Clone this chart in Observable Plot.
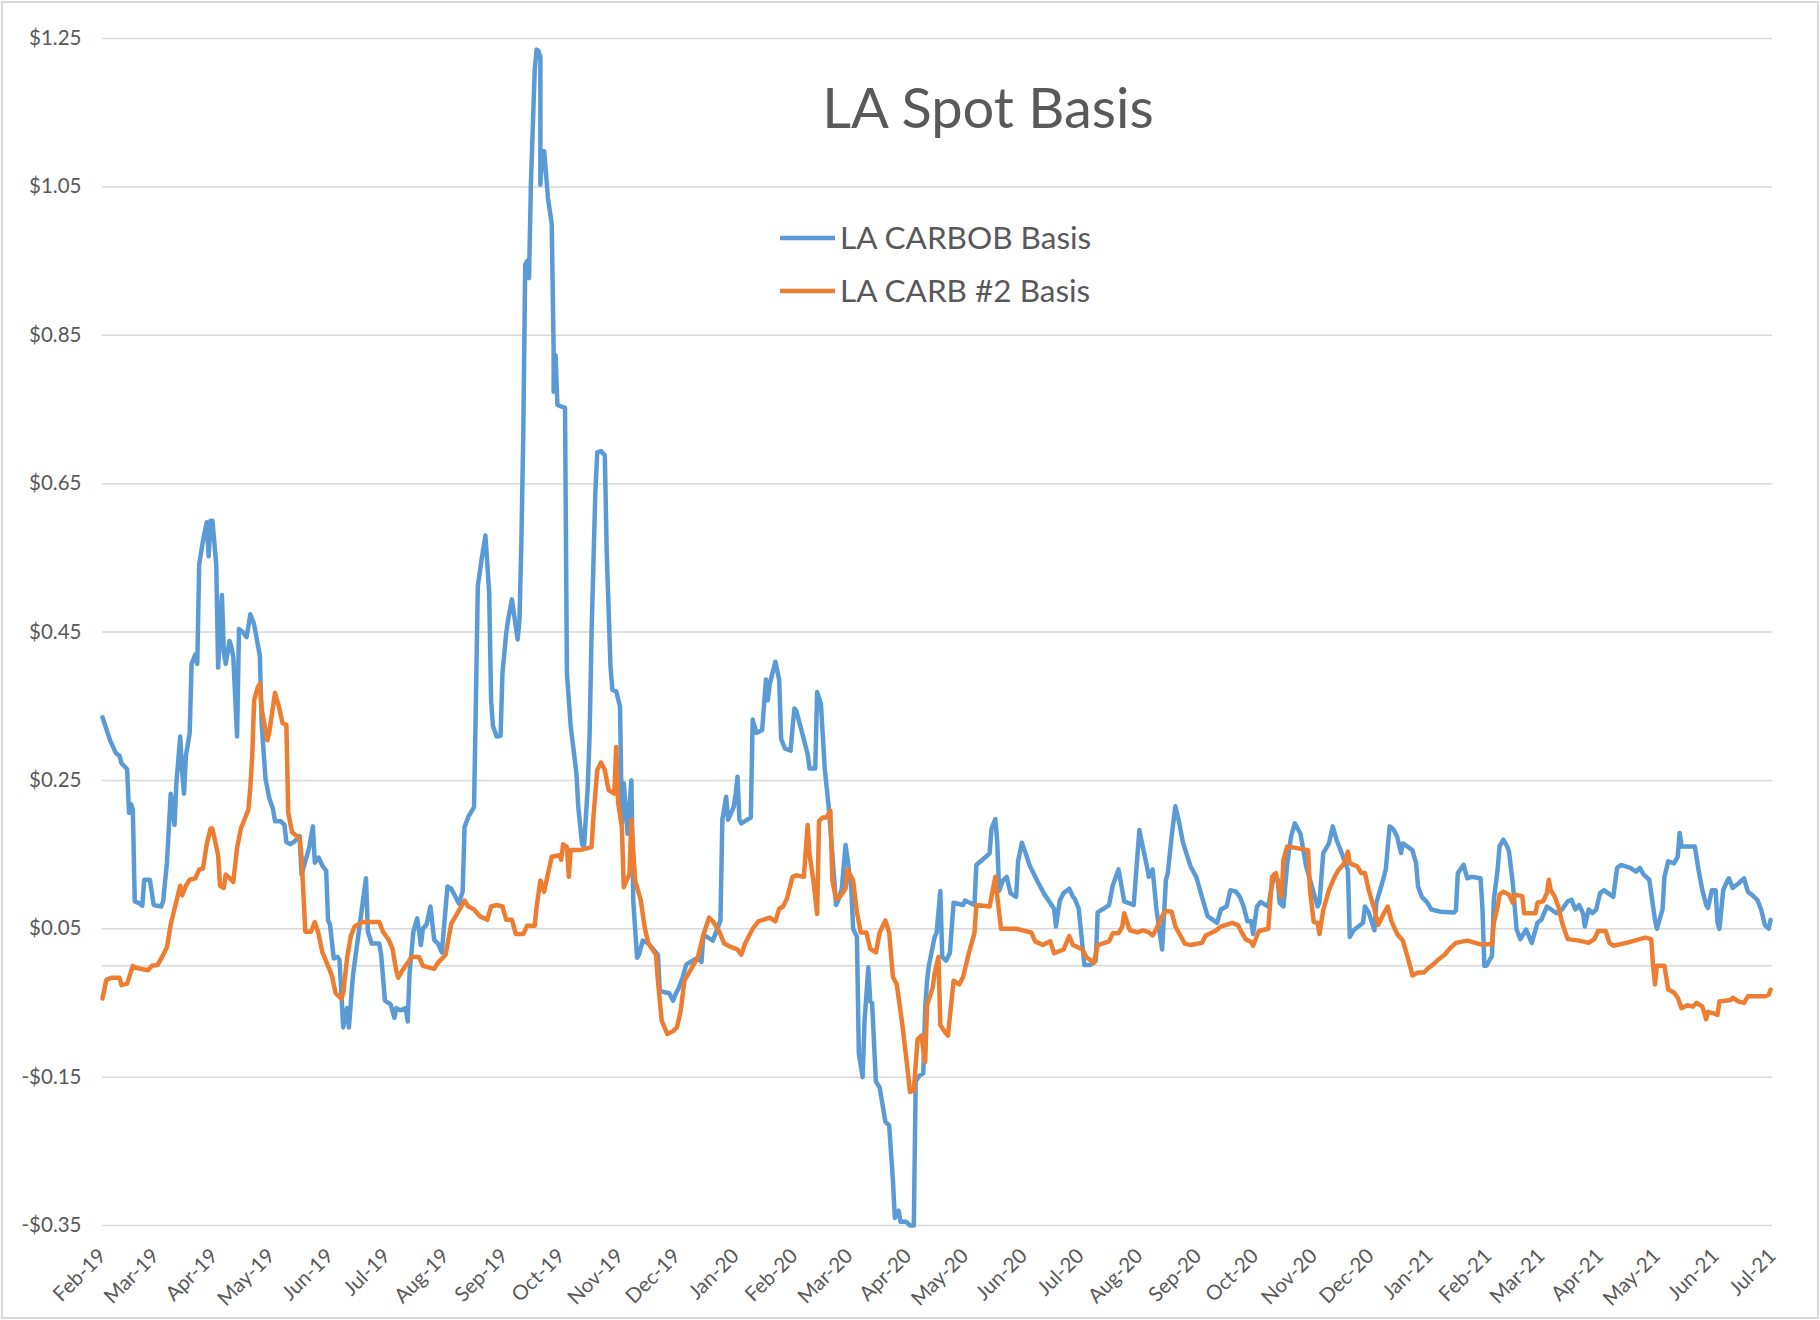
<!DOCTYPE html>
<html><head><meta charset="utf-8">
<script src="https://cdn.jsdelivr.net/npm/d3@7"></script>
<script src="https://cdn.jsdelivr.net/npm/@observablehq/plot@0.6"></script>
<style>
html,body{margin:0;padding:0;background:#fff;}
#wrap{position:relative;width:1820px;height:1320px;overflow:hidden;}
#frame{position:absolute;left:1px;top:1px;right:1px;bottom:1px;border:2px solid #d9d9d9;pointer-events:none;}
</style></head><body>
<div id="wrap"><div id="chart"></div><div id="frame"></div></div>
<script>
const titleText = "LA Spot Basis";
const seriesNames = ["LA CARBOB Basis", "LA CARB #2 Basis"];
const seriesColors = ["#5B9BD5", "#ED7D31"];
const yTicks = [-0.35, -0.15, 0.05, 0.25, 0.45, 0.65, 0.85, 1.05, 1.25];
const xTickMonths = ["2019-02-01","2019-03-01","2019-04-01","2019-05-01","2019-06-01","2019-07-01","2019-08-01","2019-09-01","2019-10-01","2019-11-01","2019-12-01","2020-01-01","2020-02-01","2020-03-01","2020-04-01","2020-05-01","2020-06-01","2020-07-01","2020-08-01","2020-09-01","2020-10-01","2020-11-01","2020-12-01","2021-01-01","2021-02-01","2021-03-01","2021-04-01","2021-05-01","2021-06-01","2021-07-01"];

const carbob = [["2019-02-01",0.335],["2019-02-05",0.304],["2019-02-08",0.287],["2019-02-10",0.283],["2019-02-11",0.273],["2019-02-14",0.265],["2019-02-15",0.206],["2019-02-16",0.218],["2019-02-17",0.211],["2019-02-18",0.087],["2019-02-20",0.085],["2019-02-22",0.081],["2019-02-23",0.116],["2019-02-26",0.116],["2019-02-28",0.082],["2019-03-04",0.080],["2019-03-05",0.087],["2019-03-07",0.139],["2019-03-09",0.232],["2019-03-11",0.19],["2019-03-12",0.247],["2019-03-14",0.309],["2019-03-15",0.263],["2019-03-16",0.232],["2019-03-17",0.283],["2019-03-19",0.314],["2019-03-20",0.407],["2019-03-22",0.42],["2019-03-23",0.407],["2019-03-24",0.541],["2019-03-26",0.573],["2019-03-28",0.598],["2019-03-29",0.552],["2019-03-30",0.60],["2019-03-31",0.60],["2019-04-02",0.541],["2019-04-03",0.402],["2019-04-05",0.50],["2019-04-06",0.423],["2019-04-07",0.407],["2019-04-09",0.438],["2019-04-10",0.43],["2019-04-11",0.416],["2019-04-13",0.309],["2019-04-14",0.454],["2019-04-16",0.45],["2019-04-18",0.443],["2019-04-20",0.474],["2019-04-22",0.46],["2019-04-25",0.418],["2019-04-26",0.325],["2019-04-28",0.252],["2019-04-30",0.226],["2019-05-02",0.211],["2019-05-03",0.195],["2019-05-06",0.195],["2019-05-08",0.19],["2019-05-09",0.167],["2019-05-11",0.164],["2019-05-13",0.167],["2019-05-16",0.175],["2019-05-17",0.123],["2019-05-21",0.159],["2019-05-23",0.188],["2019-05-24",0.139],["2019-05-26",0.146],["2019-05-28",0.135],["2019-05-30",0.128],["2019-05-31",0.061],["2019-06-01",0.056],["2019-06-03",0.010],["2019-06-05",0.012],["2019-06-06",0.008],["2019-06-08",-0.083],["2019-06-10",-0.057],["2019-06-11",-0.083],["2019-06-13",-0.016],["2019-06-14",0.004],["2019-06-17",0.061],["2019-06-20",0.118],["2019-06-21",0.046],["2019-06-23",0.03],["2019-06-27",0.03],["2019-06-28",0.015],["2019-06-30",-0.047],["2019-07-03",-0.052],["2019-07-05",-0.07],["2019-07-06",-0.057],["2019-07-08",-0.06],["2019-07-11",-0.057],["2019-07-12",-0.075],["2019-07-13",-0.01],["2019-07-15",0.046],["2019-07-17",0.064],["2019-07-19",0.028],["2019-07-20",0.05],["2019-07-22",0.056],["2019-07-24",0.080],["2019-07-26",0.035],["2019-07-28",0.03],["2019-07-30",0.018],["2019-08-02",0.107],["2019-08-04",0.104],["2019-08-08",0.084],["2019-08-10",0.10],["2019-08-11",0.187],["2019-08-13",0.201],["2019-08-16",0.214],["2019-08-17",0.358],["2019-08-18",0.512],["2019-08-20",0.548],["2019-08-22",0.58],["2019-08-24",0.503],["2019-08-25",0.358],["2019-08-26",0.323],["2019-08-28",0.309],["2019-08-30",0.31],["2019-08-31",0.395],["2019-09-02",0.449],["2019-09-03",0.467],["2019-09-05",0.494],["2019-09-06",0.476],["2019-09-08",0.44],["2019-09-09",0.467],["2019-09-10",0.575],["2019-09-11",0.72],["2019-09-12",0.945],["2019-09-13",0.95],["2019-09-14",0.927],["2019-09-15",1.053],["2019-09-17",1.207],["2019-09-18",1.235],["2019-09-19",1.233],["2019-09-20",1.225],["2019-09-20",1.053],["2019-09-21",1.098],["2019-09-22",1.098],["2019-09-23",1.067],["2019-09-24",1.035],["2019-09-26",1.0],["2019-09-27",0.828],["2019-09-27",0.774],["2019-09-28",0.823],["2019-09-29",0.756],["2019-10-03",0.752],["2019-10-04",0.395],["2019-10-06",0.323],["2019-10-09",0.26],["2019-10-10",0.214],["2019-10-12",0.164],["2019-10-13",0.16],["2019-10-15",0.241],["2019-10-16",0.314],["2019-10-17",0.449],["2019-10-19",0.638],["2019-10-20",0.692],["2019-10-22",0.694],["2019-10-24",0.688],["2019-10-25",0.558],["2019-10-27",0.403],["2019-10-28",0.372],["2019-10-30",0.37],["2019-11-01",0.35],["2019-11-02",0.192],["2019-11-03",0.246],["2019-11-05",0.178],["2019-11-07",0.25],["2019-11-08",0.088],["2019-11-10",0.011],["2019-11-11",0.015],["2019-11-13",0.034],["2019-11-16",0.03],["2019-11-21",0.015],["2019-11-22",-0.034],["2019-11-27",-0.037],["2019-11-29",-0.047],["2019-11-30",-0.04],["2019-12-02",-0.03],["2019-12-04",-0.016],["2019-12-06",0.002],["2019-12-12",0.011],["2019-12-14",0.005],["2019-12-15",0.042],["2019-12-20",0.034],["2019-12-24",0.061],["2019-12-25",0.197],["2019-12-27",0.228],["2019-12-28",0.197],["2019-12-31",0.214],["2020-01-01",0.232],["2020-01-02",0.255],["2020-01-03",0.197],["2020-01-04",0.192],["2020-01-09",0.2],["2020-01-10",0.332],["2020-01-12",0.314],["2020-01-15",0.318],["2020-01-17",0.386],["2020-01-18",0.358],["2020-01-19",0.38],["2020-01-22",0.41],["2020-01-24",0.385],["2020-01-25",0.306],["2020-01-27",0.293],["2020-01-30",0.29],["2020-01-31",0.32],["2020-02-01",0.347],["2020-02-02",0.344],["2020-02-05",0.315],["2020-02-08",0.285],["2020-02-09",0.266],["2020-02-12",0.266],["2020-02-13",0.369],["2020-02-15",0.353],["2020-02-16",0.31],["2020-02-17",0.266],["2020-02-19",0.217],["2020-02-21",0.152],["2020-02-23",0.082],["2020-02-24",0.087],["2020-02-26",0.104],["2020-02-28",0.163],["2020-02-29",0.145],["2020-03-02",0.104],["2020-03-03",0.05],["2020-03-05",0.039],["2020-03-06",-0.118],["2020-03-08",-0.15],["2020-03-09",-0.075],["2020-03-11",-0.002],["2020-03-12",-0.048],["2020-03-13",-0.05],["2020-03-15",-0.156],["2020-03-17",-0.164],["2020-03-20",-0.21],["2020-03-22",-0.215],["2020-03-24",-0.29],["2020-03-25",-0.34],["2020-03-27",-0.33],["2020-03-28",-0.345],["2020-03-31",-0.345],["2020-04-02",-0.35],["2020-04-04",-0.35],["2020-04-05",-0.156],["2020-04-07",-0.148],["2020-04-09",-0.145],["2020-04-10",-0.058],["2020-04-11",-0.02],["2020-04-12",0.001],["2020-04-15",0.039],["2020-04-16",0.044],["2020-04-18",0.101],["2020-04-19",0.012],["2020-04-21",0.007],["2020-04-23",0.017],["2020-04-25",0.085],["2020-04-30",0.082],["2020-05-01",0.088],["2020-05-06",0.082],["2020-05-07",0.136],["2020-05-12",0.147],["2020-05-14",0.152],["2020-05-15",0.185],["2020-05-17",0.198],["2020-05-18",0.168],["2020-05-19",0.101],["2020-05-21",0.115],["2020-05-23",0.12],["2020-05-25",0.098],["2020-05-28",0.093],["2020-05-29",0.141],["2020-05-31",0.166],["2020-06-02",0.152],["2020-06-04",0.136],["2020-06-08",0.115],["2020-06-12",0.096],["2020-06-17",0.077],["2020-06-18",0.053],["2020-06-20",0.088],["2020-06-22",0.098],["2020-06-25",0.104],["2020-06-27",0.093],["2020-06-28",0.09],["2020-06-30",0.077],["2020-07-03",0.001],["2020-07-06",0.001],["2020-07-09",0.007],["2020-07-10",0.072],["2020-07-16",0.082],["2020-07-18",0.109],["2020-07-21",0.13],["2020-07-24",0.087],["2020-07-29",0.082],["2020-08-01",0.183],["2020-08-02",0.17],["2020-08-05",0.134],["2020-08-06",0.12],["2020-08-08",0.13],["2020-08-10",0.076],["2020-08-13",0.022],["2020-08-15",0.116],["2020-08-16",0.125],["2020-08-18",0.174],["2020-08-20",0.215],["2020-08-22",0.193],["2020-08-24",0.166],["2020-08-28",0.134],["2020-08-31",0.12],["2020-09-03",0.093],["2020-09-06",0.067],["2020-09-11",0.058],["2020-09-13",0.076],["2020-09-16",0.08],["2020-09-18",0.102],["2020-09-21",0.1],["2020-09-23",0.093],["2020-09-25",0.08],["2020-09-27",0.06],["2020-09-29",0.06],["2020-09-30",0.043],["2020-10-02",0.08],["2020-10-04",0.086],["2020-10-08",0.08],["2020-10-11",0.123],["2020-10-13",0.116],["2020-10-14",0.085],["2020-10-16",0.08],["2020-10-18",0.138],["2020-10-20",0.174],["2020-10-22",0.192],["2020-10-25",0.178],["2020-10-28",0.134],["2020-11-03",0.08],["2020-11-04",0.085],["2020-11-06",0.152],["2020-11-09",0.165],["2020-11-11",0.188],["2020-11-13",0.17],["2020-11-16",0.15],["2020-11-19",0.129],["2020-11-20",0.039],["2020-11-22",0.048],["2020-11-27",0.058],["2020-11-28",0.08],["2020-11-30",0.072],["2020-12-03",0.048],["2020-12-04",0.085],["2020-12-07",0.111],["2020-12-09",0.13],["2020-12-11",0.188],["2020-12-13",0.184],["2020-12-15",0.174],["2020-12-17",0.152],["2020-12-18",0.165],["2020-12-23",0.156],["2020-12-25",0.138],["2020-12-26",0.107],["2020-12-28",0.093],["2020-12-31",0.085],["2021-01-02",0.076],["2021-01-07",0.073],["2021-01-14",0.072],["2021-01-15",0.075],["2021-01-16",0.125],["2021-01-19",0.136],["2021-01-21",0.118],["2021-01-23",0.12],["2021-01-28",0.118],["2021-01-29",0.076],["2021-01-30",0.0],["2021-01-31",0.0],["2021-02-03",0.013],["2021-02-04",0.089],["2021-02-06",0.13],["2021-02-07",0.161],["2021-02-09",0.17],["2021-02-11",0.161],["2021-02-12",0.154],["2021-02-14",0.111],["2021-02-15",0.08],["2021-02-16",0.049],["2021-02-18",0.036],["2021-02-21",0.049],["2021-02-22",0.043],["2021-02-24",0.031],["2021-02-27",0.058],["2021-03-01",0.062],["2021-03-04",0.08],["2021-03-09",0.071],["2021-03-12",0.076],["2021-03-15",0.087],["2021-03-17",0.089],["2021-03-19",0.076],["2021-03-21",0.082],["2021-03-23",0.071],["2021-03-24",0.053],["2021-03-26",0.076],["2021-03-28",0.071],["2021-03-30",0.076],["2021-04-01",0.098],["2021-04-03",0.102],["2021-04-08",0.093],["2021-04-10",0.132],["2021-04-12",0.136],["2021-04-17",0.132],["2021-04-20",0.127],["2021-04-22",0.132],["2021-04-24",0.123],["2021-04-27",0.116],["2021-04-28",0.098],["2021-04-30",0.062],["2021-05-01",0.05],["2021-05-04",0.076],["2021-05-05",0.12],["2021-05-07",0.141],["2021-05-10",0.138],["2021-05-12",0.147],["2021-05-13",0.179],["2021-05-14",0.161],["2021-05-21",0.161],["2021-05-23",0.129],["2021-05-25",0.102],["2021-05-27",0.082],["2021-05-28",0.078],["2021-05-30",0.102],["2021-06-01",0.102],["2021-06-02",0.058],["2021-06-03",0.05],["2021-06-05",0.102],["2021-06-07",0.114],["2021-06-08",0.118],["2021-06-10",0.105],["2021-06-13",0.111],["2021-06-16",0.118],["2021-06-18",0.1],["2021-06-20",0.096],["2021-06-23",0.089],["2021-06-25",0.076],["2021-06-27",0.055],["2021-06-29",0.05],["2021-06-30",0.062]];

const carb2 = [["2019-02-01",-0.044],["2019-02-03",-0.019],["2019-02-06",-0.016],["2019-02-10",-0.016],["2019-02-11",-0.026],["2019-02-14",-0.024],["2019-02-17",0.0],["2019-02-19",-0.003],["2019-02-25",-0.006],["2019-02-27",0.0],["2019-03-02",0.001],["2019-03-04",0.010],["2019-03-07",0.025],["2019-03-09",0.056],["2019-03-11",0.077],["2019-03-14",0.108],["2019-03-15",0.095],["2019-03-17",0.108],["2019-03-19",0.116],["2019-03-22",0.118],["2019-03-24",0.13],["2019-03-26",0.131],["2019-03-28",0.164],["2019-03-30",0.185],["2019-03-31",0.185],["2019-04-03",0.149],["2019-04-04",0.108],["2019-04-06",0.105],["2019-04-07",0.123],["2019-04-10",0.116],["2019-04-11",0.113],["2019-04-13",0.159],["2019-04-15",0.185],["2019-04-17",0.198],["2019-04-19",0.211],["2019-04-20",0.242],["2019-04-21",0.283],["2019-04-22",0.358],["2019-04-24",0.376],["2019-04-25",0.38],["2019-04-26",0.345],["2019-04-29",0.304],["2019-04-30",0.315],["2019-05-03",0.368],["2019-05-05",0.35],["2019-05-07",0.327],["2019-05-09",0.325],["2019-05-10",0.206],["2019-05-12",0.18],["2019-05-16",0.172],["2019-05-17",0.147],["2019-05-19",0.046],["2019-05-22",0.046],["2019-05-24",0.059],["2019-05-26",0.043],["2019-05-28",0.018],["2019-05-31",0.0],["2019-06-02",-0.013],["2019-06-04",-0.037],["2019-06-07",-0.044],["2019-06-08",-0.037],["2019-06-10",0.010],["2019-06-12",0.04],["2019-06-14",0.053],["2019-06-18",0.059],["2019-06-27",0.059],["2019-06-29",0.046],["2019-07-02",0.035],["2019-07-04",0.023],["2019-07-06",-0.007],["2019-07-07",-0.016],["2019-07-09",-0.007],["2019-07-12",0.004],["2019-07-14",0.012],["2019-07-18",0.012],["2019-07-20",0.0],["2019-07-26",-0.004],["2019-07-28",0.004],["2019-08-01",0.015],["2019-08-04",0.057],["2019-08-07",0.07],["2019-08-11",0.088],["2019-08-13",0.08],["2019-08-16",0.076],["2019-08-19",0.067],["2019-08-23",0.062],["2019-08-25",0.08],["2019-08-28",0.082],["2019-08-31",0.08],["2019-09-02",0.062],["2019-09-05",0.062],["2019-09-07",0.043],["2019-09-11",0.043],["2019-09-13",0.054],["2019-09-17",0.054],["2019-09-18",0.079],["2019-09-20",0.115],["2019-09-22",0.10],["2019-09-24",0.124],["2019-09-26",0.147],["2019-09-30",0.149],["2019-10-01",0.143],["2019-10-02",0.164],["2019-10-04",0.16],["2019-10-05",0.12],["2019-10-06",0.156],["2019-10-11",0.156],["2019-10-17",0.16],["2019-10-18",0.201],["2019-10-20",0.264],["2019-10-22",0.274],["2019-10-24",0.264],["2019-10-26",0.237],["2019-10-29",0.232],["2019-10-30",0.295],["2019-10-31",0.22],["2019-11-02",0.187],["2019-11-03",0.106],["2019-11-06",0.124],["2019-11-07",0.197],["2019-11-09",0.115],["2019-11-10",0.106],["2019-11-12",0.088],["2019-11-14",0.052],["2019-11-16",0.03],["2019-11-20",0.015],["2019-11-21",-0.02],["2019-11-23",-0.074],["2019-11-26",-0.092],["2019-11-29",-0.088],["2019-12-01",-0.083],["2019-12-03",-0.061],["2019-12-05",-0.02],["2019-12-09",-0.002],["2019-12-12",0.011],["2019-12-15",0.042],["2019-12-18",0.065],["2019-12-20",0.06],["2019-12-23",0.048],["2019-12-26",0.03],["2019-12-29",0.026],["2020-01-02",0.022],["2020-01-04",0.015],["2020-01-06",0.03],["2020-01-10",0.05],["2020-01-13",0.06],["2020-01-19",0.065],["2020-01-22",0.06],["2020-01-24",0.077],["2020-01-26",0.08],["2020-01-28",0.09],["2020-01-31",0.12],["2020-02-02",0.122],["2020-02-06",0.12],["2020-02-08",0.19],["2020-02-09",0.15],["2020-02-11",0.115],["2020-02-13",0.07],["2020-02-14",0.195],["2020-02-16",0.2],["2020-02-18",0.2],["2020-02-20",0.209],["2020-02-21",0.115],["2020-02-23",0.09],["2020-02-25",0.093],["2020-02-28",0.104],["2020-02-29",0.13],["2020-03-03",0.115],["2020-03-05",0.072],["2020-03-07",0.045],["2020-03-10",0.045],["2020-03-12",0.023],["2020-03-15",0.018],["2020-03-17",0.045],["2020-03-20",0.061],["2020-03-22",0.045],["2020-03-24",-0.015],["2020-03-26",-0.025],["2020-03-29",-0.08],["2020-03-31",-0.124],["2020-04-02",-0.17],["2020-04-04",-0.168],["2020-04-06",-0.099],["2020-04-08",-0.094],["2020-04-10",-0.13],["2020-04-11",-0.053],["2020-04-14",-0.029],["2020-04-15",-0.01],["2020-04-17",0.012],["2020-04-18",-0.08],["2020-04-21",-0.091],["2020-04-22",-0.094],["2020-04-25",-0.02],["2020-04-28",-0.025],["2020-04-30",-0.015],["2020-05-03",0.017],["2020-05-06",0.044],["2020-05-07",0.082],["2020-05-14",0.08],["2020-05-17",0.12],["2020-05-18",0.094],["2020-05-20",0.05],["2020-05-28",0.05],["2020-06-05",0.045],["2020-06-07",0.033],["2020-06-11",0.028],["2020-06-15",0.033],["2020-06-17",0.017],["2020-06-22",0.022],["2020-06-25",0.04],["2020-06-27",0.028],["2020-07-02",0.022],["2020-07-04",0.012],["2020-07-08",0.004],["2020-07-10",0.028],["2020-07-16",0.033],["2020-07-18",0.044],["2020-07-21",0.044],["2020-07-23",0.053],["2020-07-24",0.071],["2020-07-26",0.055],["2020-07-27",0.048],["2020-07-31",0.045],["2020-08-03",0.048],["2020-08-06",0.045],["2020-08-08",0.041],["2020-08-10",0.05],["2020-08-13",0.067],["2020-08-15",0.074],["2020-08-18",0.073],["2020-08-20",0.053],["2020-08-23",0.039],["2020-08-25",0.03],["2020-08-28",0.028],["2020-09-03",0.031],["2020-09-05",0.041],["2020-09-10",0.047],["2020-09-13",0.053],["2020-09-19",0.058],["2020-09-22",0.055],["2020-09-24",0.045],["2020-09-26",0.036],["2020-09-29",0.032],["2020-09-30",0.027],["2020-10-03",0.047],["2020-10-08",0.05],["2020-10-10",0.12],["2020-10-12",0.125],["2020-10-13",0.113],["2020-10-14",0.1],["2020-10-15",0.093],["2020-10-16",0.143],["2020-10-18",0.161],["2020-10-29",0.156],["2020-10-30",0.102],["2020-11-01",0.059],["2020-11-03",0.058],["2020-11-04",0.043],["2020-11-06",0.075],["2020-11-09",0.102],["2020-11-12",0.12],["2020-11-14",0.129],["2020-11-17",0.138],["2020-11-19",0.154],["2020-11-20",0.138],["2020-11-24",0.134],["2020-11-26",0.125],["2020-11-28",0.125],["2020-11-30",0.102],["2020-12-03",0.076],["2020-12-05",0.055],["2020-12-08",0.071],["2020-12-10",0.08],["2020-12-12",0.06],["2020-12-15",0.043],["2020-12-18",0.034],["2020-12-20",0.016],["2020-12-22",-0.002],["2020-12-23",-0.013],["2020-12-26",-0.009],["2020-12-29",-0.009],["2020-12-31",-0.004],["2021-01-03",0.002],["2021-01-06",0.009],["2021-01-09",0.015],["2021-01-12",0.024],["2021-01-15",0.031],["2021-01-21",0.034],["2021-01-28",0.029],["2021-02-03",0.029],["2021-02-04",0.058],["2021-02-06",0.08],["2021-02-07",0.096],["2021-02-09",0.1],["2021-02-12",0.096],["2021-02-14",0.085],["2021-02-15",0.096],["2021-02-19",0.094],["2021-02-20",0.071],["2021-02-26",0.071],["2021-02-27",0.085],["2021-03-02",0.087],["2021-03-04",0.098],["2021-03-05",0.116],["2021-03-06",0.102],["2021-03-08",0.094],["2021-03-10",0.08],["2021-03-12",0.058],["2021-03-14",0.043],["2021-03-15",0.036],["2021-03-21",0.034],["2021-03-26",0.031],["2021-03-29",0.036],["2021-03-31",0.047],["2021-04-04",0.047],["2021-04-06",0.031],["2021-04-08",0.027],["2021-04-15",0.031],["2021-04-22",0.036],["2021-04-25",0.038],["2021-04-28",0.036],["2021-04-29",0.0],["2021-04-30",-0.025],["2021-05-01",0.0],["2021-05-05",0.0],["2021-05-07",-0.032],["2021-05-10",-0.036],["2021-05-12",-0.043],["2021-05-14",-0.057],["2021-05-17",-0.053],["2021-05-20",-0.055],["2021-05-22",-0.05],["2021-05-25",-0.055],["2021-05-27",-0.072],["2021-05-28",-0.062],["2021-05-31",-0.064],["2021-06-02",-0.066],["2021-06-03",-0.048],["2021-06-09",-0.046],["2021-06-10",-0.043],["2021-06-13",-0.048],["2021-06-16",-0.05],["2021-06-18",-0.041],["2021-06-27",-0.041],["2021-06-29",-0.039],["2021-06-30",-0.032]];

const parse = d3.utcParse("%Y-%m-%d");
const toRows = (arr) => arr.map(([d, v]) => ({date: parse(d), value: v}));
const carbobRows = toRows(carbob);
const carb2Rows = toRows(carb2);
const months = xTickMonths.map(parse);
const fmtX = d3.utcFormat("%b-%y");
const fmtY = v => (v < 0 ? "-$" : "$") + Math.abs(v).toFixed(2);
const textColor = "#595959";
const font = "Lato, 'Open Sans', sans-serif";

function annotations(index, scales, values, dims) {
  const g = d3.create("svg:g").attr("font-family", font).attr("fill", textColor);
  g.append("text").attr("x", 988).attr("y", 128).attr("text-anchor", "middle")
    .attr("font-size", 56).text(titleText);
  const rows = [238, 291];
  seriesNames.forEach((name, i) => {
    g.append("line").attr("x1", 780).attr("x2", 835).attr("y1", rows[i]).attr("y2", rows[i])
      .attr("stroke", seriesColors[i]).attr("stroke-width", 4.5);
    g.append("text").attr("x", 840).attr("y", rows[i] + 11).attr("text-anchor", "start")
      .attr("font-size", 31.5).text(name);
  });
  return g.node();
}

const chart = Plot.plot({
  width: 1820,
  height: 1320,
  marginLeft: 102,
  marginRight: 48,
  marginTop: 38,
  marginBottom: 95,
  style: {fontFamily: font, background: "white", color: textColor},
  x: {type: "utc", domain: [parse("2019-02-01"), parse("2021-07-01")], axis: null},
  y: {domain: [-0.35, 1.25], label: null},
  marks: [
    Plot.ruleY(yTicks, {stroke: "#d9d9d9", strokeWidth: 1.5}),
    Plot.ruleY([0], {stroke: "#d9d9d9", strokeWidth: 1.5}),
    Plot.axisY(yTicks, {tickSize: 0, tickPadding: 21, tickFormat: fmtY, fontSize: 20.5, fill: textColor, label: null}),
    Plot.text(months, {x: d => d, frameAnchor: "bottom", dy: 27, rotate: -45, textAnchor: "end", lineAnchor: "middle", text: d => fmtX(d), fontSize: 20.5, fill: textColor}),
    Plot.line(carbobRows, {x: "date", y: "value", stroke: seriesColors[0], strokeWidth: 4.5, strokeLinejoin: "round", curve: "linear"}),
    Plot.line(carb2Rows, {x: "date", y: "value", stroke: seriesColors[1], strokeWidth: 4.5, strokeLinejoin: "round", curve: "linear"}),
    annotations
  ]
});
document.getElementById("chart").appendChild(chart);
</script>
</body></html>
